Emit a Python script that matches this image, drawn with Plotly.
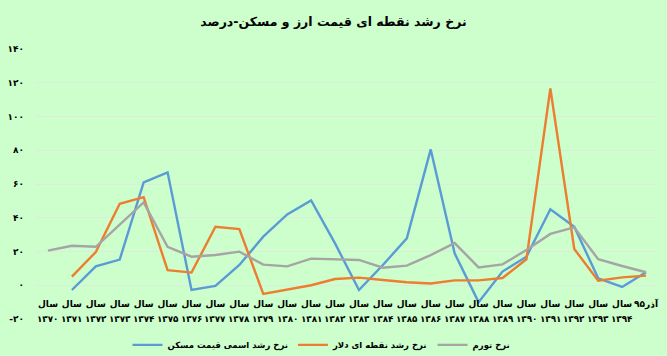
import plotly.graph_objects as go

# ---- data ----
years = ["1370", "1371", "1372", "1373", "1374", "1375", "1376", "1377", "1378",
         "1379", "1380", "1381", "1382", "1383", "1384", "1385", "1386", "1387",
         "1388", "1389", "1390", "1391", "1392", "1393", "1394", "آذر95"]

housing = [None, -2.8, 11.2, 15.2, 60.9, 66.9, -2.8, -0.4, 12.0, 28.8, 42.0, 50.3,
           24.8, -2.8, 12.0, 27.8, 80.5, 18.9, -10.0, 8.1, 16.9, 45.0, 34.7, 4.1,
           -1.0, 7.7]
dollar = [None, 5.1, 19.7, 48.3, 52.2, 8.9, 7.5, 34.7, 33.3, -5.1, -2.6, 0.0, 3.7,
          4.5, 3.1, 1.8, 1.0, 2.9, 2.9, 4.3, 15.4, 116.6, 21.5, 2.7, 4.7, 5.7]
inflation = [20.5, 23.4, 22.8, 36.0, 49.1, 22.8, 16.9, 17.9, 19.9, 12.2, 11.2, 15.8,
             15.4, 15.0, 10.4, 11.6, 17.9, 25.0, 10.6, 12.4, 20.9, 30.4, 34.3, 15.4,
             11.4, 7.7]

series_names = ["نرخ رشد اسمی قیمت مسکن", "نرخ رشد نقطه ای دلار", "نرخ تورم"]
series_colors = ["#5B9BD5", "#ED7D31", "#A5A5A5"]
title_text = "نرخ رشد نقطه ای قیمت ارز و مسکن-درصد"
y_ticks = [-20, 0, 20, 40, 60, 80, 100, 120, 140]

FA = str.maketrans("0123456789-", "۰۱۲۳۴۵۶۷۸۹-")


def fa(s):
    return str(s).translate(FA)


FONT = "DejaVu Sans"
BG = "#CCFFCC"

fig = go.Figure()
for name, vals, col in zip(series_names, [housing, dollar, inflation], series_colors):
    fig.add_trace(go.Scatter(x=years, y=vals, name="<b>" + name + "</b>", mode="lines",
                             line=dict(color=col, width=2.4), connectgaps=False))

# top row of category labels: "سال" (or the month label for the last point)
top_labels = [("سال" if y.isdigit() else fa(y)) for y in years]

annotations = []
for i, y in enumerate(years):
    if y.isdigit():
        annotations.append(dict(x=i, y=-20, xref="x", yref="y", text="<b>" + fa(y) + "</b>",
                                showarrow=False, xanchor="center", yanchor="middle",
                                font=dict(family=FONT, size=8.8, color="#000000")))

fig.update_layout(
    width=667, height=356,
    paper_bgcolor=BG, plot_bgcolor=BG,
    margin=dict(l=36.2, r=9.4, t=48.7, b=36.9, autoexpand=False),
    title=dict(text="<b>" + title_text + "</b>", x=0.5, xref="container", xanchor="center",
               y=1 - 22 / 356, yref="container", yanchor="middle",
               font=dict(family=FONT, size=12.5, color="#000000")),
    showlegend=True,
    legend=dict(orientation="h", x=0.459, xanchor="center", y=-0.096, yanchor="middle",
                font=dict(family=FONT, size=8.5, color="#000000"), bgcolor="rgba(0,0,0,0)",
                itemwidth=30),
    xaxis=dict(type="category", categoryorder="array", categoryarray=years,
               range=[-0.5, len(years) - 0.5], anchor="free", position=20 / 160,
               tickmode="array", tickvals=years,
               ticktext=["<b>" + t + "</b>" for t in top_labels],
               ticks="", showline=False, showgrid=False, zeroline=False,
               tickangle=0, ticklabelstandoff=12, automargin=False,
               tickfont=dict(family=FONT, size=9, color="#000000")),
    yaxis=dict(range=[-20, 140], tickmode="array", tickvals=y_ticks,
               ticktext=["<b>" + fa(v) + "</b>" for v in y_ticks],
               showgrid=True, gridcolor="#DDEBDD", gridwidth=1, zeroline=False,
               showline=False, ticks="", ticklabelstandoff=11, automargin=False,
               tickfont=dict(family=FONT, size=9, color="#000000")),
    annotations=annotations,
)

fig.write_html("out.html", config={"displayModeBar": False},
               post_script="document.body.style.margin='0';document.body.style.padding='0';")
